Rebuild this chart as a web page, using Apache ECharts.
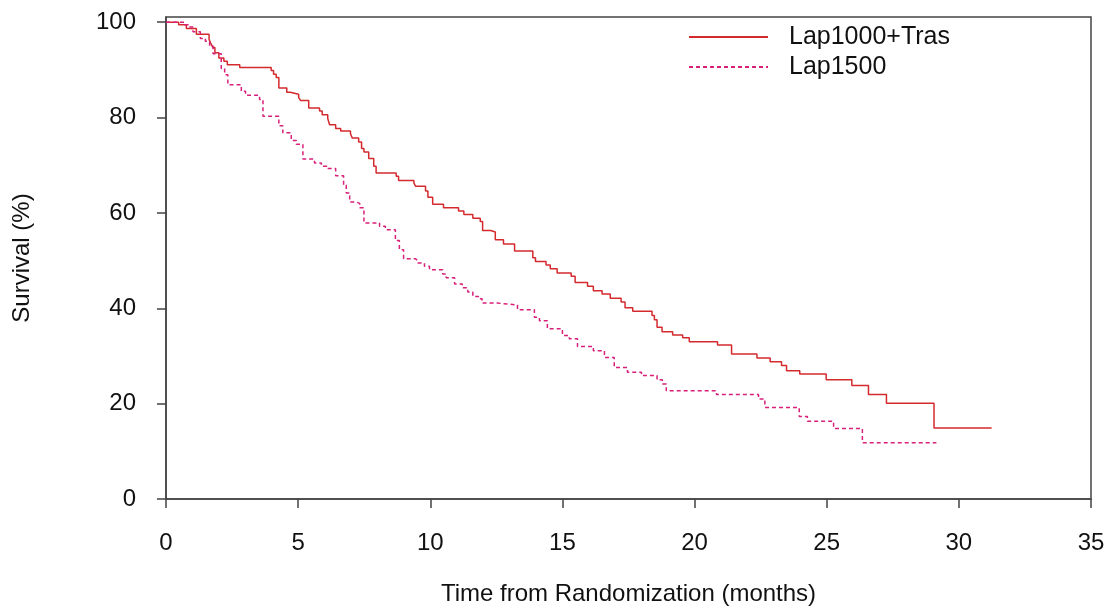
<!DOCTYPE html>
<html>
<head>
<meta charset="utf-8">
<script src="https://cdn.jsdelivr.net/npm/echarts@6/dist/echarts.min.js"></script>
<style>
  html, body { margin: 0; padding: 0; background: #fff; }
  #chart { width: 1108px; height: 607px; }
</style>
</head>
<body>
<div id="chart"></div>
<script>
// Kaplan-Meier steps (months, survival %)
var lapTrasTime = [0, 0.48, 0.77, 1.15, 1.63, 1.70, 1.77, 1.85, 2.00, 2.19, 2.32, 2.79, 3.98, 4.07, 4.17, 4.27, 4.57, 4.70, 5.02, 5.09,
  5.40, 5.81, 5.91, 6.12, 6.19, 6.42, 6.61, 6.98, 7.05, 7.29, 7.40, 7.49, 7.67, 7.86, 7.95, 8.71, 8.80, 9.38, 9.44, 9.82,
  9.91, 10.09, 10.50, 11.07, 11.27, 11.61, 11.89, 11.98, 12.29, 12.46, 12.77, 13.19, 13.88, 13.98, 14.38, 14.54, 14.80, 15.33, 15.48, 15.95,
  16.17, 16.50, 16.81, 17.22, 17.37, 17.66, 18.39, 18.48, 18.58, 18.77, 19.17, 19.55, 19.80, 20.87, 21.40, 22.36, 22.86, 23.29, 23.48, 23.98,
  24.98, 25.95, 26.58, 27.26, 29.06, 31.24];
var lapTrasSurv = [100, 99.5, 98.7, 97.5, 96.4, 95.5, 94.7, 93.6, 92.5, 91.8, 91.1, 90.5, 89.9, 89.1, 88.4, 86.2, 85.3, 84.9, 84.2, 83.6,
  82.0, 81.4, 80.6, 79.8, 78.5, 77.7, 77.2, 76.6, 75.7, 74.9, 73.5, 72.8, 71.4, 69.8, 68.4, 67.7, 66.8, 66.3, 65.6, 64.6,
  63.3, 61.8, 61.1, 60.4, 59.7, 58.9, 58.2, 56.3, 56.0, 54.4, 53.5, 52.0, 50.6, 49.8, 49.1, 48.3, 47.4, 46.7, 45.4, 44.6,
  43.7, 43.0, 42.1, 41.3, 40.1, 39.4, 38.5, 37.6, 36.0, 35.1, 34.4, 33.8, 33.0, 32.3, 30.4, 29.6, 28.8, 28.0, 26.9, 26.2,
  25.0, 23.8, 21.9, 20.1, 14.9, 14.9];

var lap1500Time = [0, 0.71, 0.90, 1.02, 1.30, 1.49, 1.65, 1.78, 2.09, 2.22, 2.34, 2.85, 3.01, 3.54, 3.67, 4.27, 4.42, 4.74, 4.93, 5.18,
  5.62, 5.88, 6.09, 6.42, 6.72, 6.82, 6.95, 7.20, 7.33, 7.49, 8.08, 8.30, 8.68, 8.83, 8.99, 9.44, 9.53, 9.78, 9.97, 10.47,
  10.60, 10.92, 11.21, 11.42, 11.61, 11.82, 11.96, 12.53, 13.30, 13.94, 14.13, 14.43, 15.00, 15.26, 15.57, 16.17, 16.59, 16.96, 17.46, 17.99,
  18.58, 18.78, 18.93, 20.83, 22.42, 22.66, 23.96, 24.27, 25.26, 26.35, 29.15];
var lap1500Surv = [100, 99.5, 99.0, 98.0, 96.6, 96.0, 95.0, 93.4, 90.3, 89.0, 86.9, 85.5, 84.7, 83.8, 80.3, 78.3, 76.8, 75.2, 74.4, 71.3,
  70.5, 69.8, 69.3, 67.8, 65.8, 64.2, 62.3, 62.0, 61.1, 57.9, 57.2, 56.5, 54.2, 52.3, 50.4, 50.0, 49.5, 48.8, 48.1, 47.2,
  46.4, 45.1, 44.3, 43.4, 42.5, 42.0, 41.1, 40.7, 39.7, 38.1, 37.4, 35.7, 34.3, 33.6, 32.0, 31.1, 29.7, 27.6, 26.6, 25.9,
  25.0, 24.1, 22.7, 21.9, 21.0, 19.2, 17.3, 16.3, 14.8, 11.8, 11.8];

var seriesNames = ['Lap1000+Tras', 'Lap1500'];
var yTicks = [0, 20, 40, 60, 80, 100];

function pairs(t, s) {
  return t.map(function (x, i) { return [x, s[i]]; });
}

var axisCol = '#444';
var font = 'Liberation Sans, Arial, sans-serif';

var myChart = echarts.init(document.getElementById('chart'));
myChart.setOption({
  animation: false,
  backgroundColor: '#fff',
  grid: {
    left: 166, right: 17, top: 17, bottom: 108,
    outerBoundsMode: 'none', containLabel: false,
    show: true, borderColor: axisCol, borderWidth: 1.5
  },
  legend: {
    left: 688, top: 24, orient: 'vertical', padding: 0,
    itemWidth: 79, itemHeight: 24, itemGap: 4,
    itemStyle: { color: 'transparent', borderWidth: 0 },
    textStyle: { fontFamily: font, fontSize: 25, color: '#111', lineHeight: 24, padding: [2, 0, 0, 16] },
    data: seriesNames
  },
  xAxis: {
    type: 'value', min: 0, max: 35, interval: 5,
    name: 'Time from Randomization (months)',
    nameLocation: 'middle', nameGap: 83,
    nameTextStyle: { fontFamily: font, fontSize: 24, color: '#111' },
    axisLine: { lineStyle: { color: axisCol, width: 1.5 } },
    axisTick: { length: 9, lineStyle: { color: axisCol, width: 1.5 } },
    axisLabel: { margin: 32, fontFamily: font, fontSize: 24, color: '#111' },
    splitLine: { show: false }
  },
  yAxis: {
    type: 'value', min: 0, max: 101.1,
    name: 'Survival (%)',
    nameLocation: 'middle', nameGap: 132, nameRotate: 90,
    nameTextStyle: { fontFamily: font, fontSize: 24, color: '#111' },
    axisLine: { show: true, lineStyle: { color: axisCol, width: 1.5 } },
    axisTick: { show: true, length: 9, customValues: yTicks, lineStyle: { color: axisCol, width: 1.5 } },
    axisLabel: { margin: 30, customValues: yTicks, fontFamily: font, fontSize: 24, color: '#111' },
    splitLine: { show: false }
  },
  series: [
    {
      name: seriesNames[0], type: 'line', step: 'end', symbol: 'none',
      data: pairs(lapTrasTime, lapTrasSurv),
      color: '#d42a2e',
      lineStyle: { color: '#d42a2e', width: 1.5 }
    },
    {
      name: seriesNames[1], type: 'line', step: 'end', symbol: 'none',
      data: pairs(lap1500Time, lap1500Surv),
      color: '#d81f7a',
      lineStyle: { color: '#d81f7a', width: 1.5, type: [4, 3] }
    }
  ]
});
</script>
</body>
</html>
